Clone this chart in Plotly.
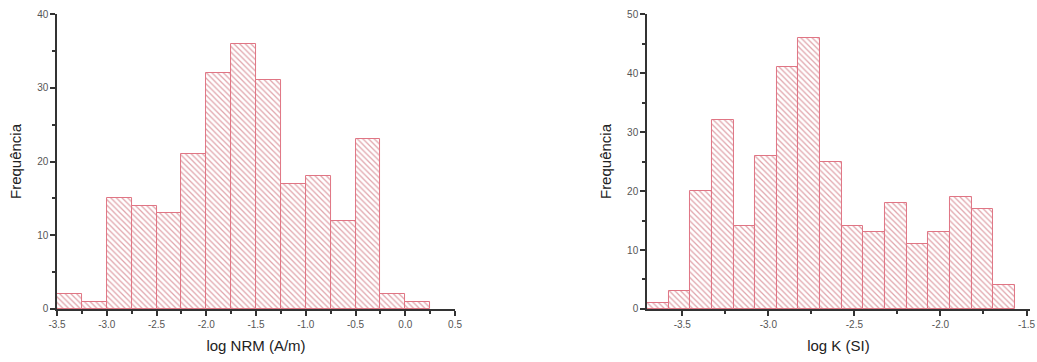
import plotly.graph_objects as go

# ---- data ----
nrm_counts = [2, 1, 15, 14, 13, 21, 32, 36, 31, 17, 18, 12, 23, 2, 1]
nrm_bin_start = -3.5
nrm_bin_width = 0.25

k_counts = [1, 3, 20, 32, 14, 26, 41, 46, 25, 14, 13, 18, 11, 13, 19, 17, 4]
k_bin_start = -3.705
k_bin_width = 0.1257

nrm_ticks = [-3.5, -3.0, -2.5, -2.0, -1.5, -1.0, -0.5, 0.0, 0.5]
k_ticks = [-3.5, -3.0, -2.5, -2.0, -1.5]
y_ticks_left = [0, 10, 20, 30, 40]
y_ticks_right = [0, 10, 20, 30, 40, 50]

nrm_centers = [nrm_bin_start + (i + 0.5) * nrm_bin_width for i in range(len(nrm_counts))]
k_centers = [k_bin_start + (i + 0.5) * k_bin_width for i in range(len(k_counts))]

HATCH = "#c24a58"
EDGE = "#e07584"

def bar(x, y, w, xa, ya):
    return go.Bar(
        x=x, y=y, width=w, xaxis=xa, yaxis=ya,
        marker=dict(
            color="white",
            line=dict(color=EDGE, width=1),
            pattern=dict(shape="\\", fgcolor=HATCH, bgcolor="white",
                         size=4, solidity=0.32),
        ),
        showlegend=False,
    )

fig = go.Figure()
fig.add_trace(bar(nrm_centers, nrm_counts, nrm_bin_width, "x", "y"))
fig.add_trace(bar(k_centers, k_counts, k_bin_width, "x2", "y2"))

tickfont = dict(family="Liberation Sans, Arial, sans-serif", size=10, color="#555")
titlefont = dict(family="Liberation Sans, Arial, sans-serif", size=15, color="#222")

def xaxis(domain, rng, ticks, anchor, title, minor_dtick):
    return dict(
        domain=domain, range=rng, anchor=anchor, automargin=False,
        tickmode="array", tickvals=ticks, ticktext=[f"{t:.1f}" for t in ticks],
        ticks="outside", ticklen=5, tickwidth=1.5, tickcolor="#333",
        minor=dict(ticks="outside", ticklen=3, dtick=minor_dtick, tick0=-3.5,
                   tickcolor="#333", tickwidth=1.5),
        showline=True, linecolor="#333", linewidth=1.5,
        showgrid=False, zeroline=False, tickfont=tickfont,
        title=dict(text=title, font=titlefont, standoff=12),
    )

def yaxis(rng, ticks, anchor):
    return dict(
        domain=[0.1464, 0.9613], range=rng, anchor=anchor, automargin=False,
        tickmode="array", tickvals=ticks,
        ticks="outside", ticklen=5, tickwidth=1.5, tickcolor="#333",
        minor=dict(ticks="outside", ticklen=3, dtick=5, tick0=0,
                   tickcolor="#333", tickwidth=1.5),
        showline=True, linecolor="#333", linewidth=1.5,
        showgrid=False, zeroline=False, tickfont=tickfont,
        title=dict(text="Frequência", font=titlefont, standoff=12),
    )

fig.update_layout(
    width=1037, height=362,
    margin=dict(l=0, r=0, t=0, b=0),
    paper_bgcolor="white", plot_bgcolor="white",
    bargap=0,
    xaxis=xaxis([0.0550, 0.4388], [-3.5, 0.5], nrm_ticks, "y", "log NRM (A/m)", 0.25),
    yaxis=yaxis([0, 40], y_ticks_left, "x"),
    xaxis2=xaxis([0.6239, 0.9932], [-3.705, -1.48], k_ticks, "y2", "log K (SI)", 0.25),
    yaxis2=yaxis([0, 50], y_ticks_right, "x2"),
)

fig.write_html(
    "out.html",
    config={"displayModeBar": False},
    post_script="document.body.style.margin='0';document.body.style.overflow='hidden';",
)
